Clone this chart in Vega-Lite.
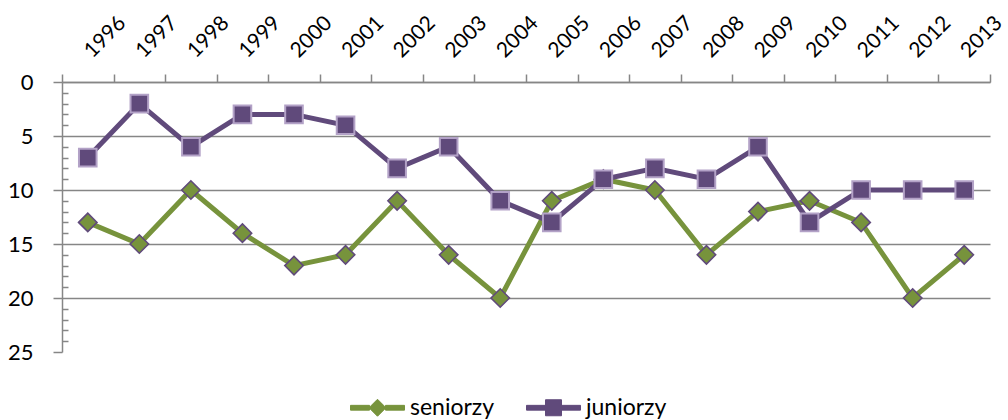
{
  "$schema": "https://vega.github.io/schema/vega-lite/v6.json",
  "width": 928,
  "height": 270,
  "autosize": "none",
  "padding": {"left": 62, "top": 82, "right": 18, "bottom": 68},
  "background": "white",
  "config": {"view": {"stroke": null}, "font": "Lato"},
  "data": {"values": [
    {"year": "1996", "series": "seniorzy", "rank": 13},
    {"year": "1997", "series": "seniorzy", "rank": 15},
    {"year": "1998", "series": "seniorzy", "rank": 10},
    {"year": "1999", "series": "seniorzy", "rank": 14},
    {"year": "2000", "series": "seniorzy", "rank": 17},
    {"year": "2001", "series": "seniorzy", "rank": 16},
    {"year": "2002", "series": "seniorzy", "rank": 11},
    {"year": "2003", "series": "seniorzy", "rank": 16},
    {"year": "2004", "series": "seniorzy", "rank": 20},
    {"year": "2005", "series": "seniorzy", "rank": 11},
    {"year": "2006", "series": "seniorzy", "rank": 9},
    {"year": "2007", "series": "seniorzy", "rank": 10},
    {"year": "2008", "series": "seniorzy", "rank": 16},
    {"year": "2009", "series": "seniorzy", "rank": 12},
    {"year": "2010", "series": "seniorzy", "rank": 11},
    {"year": "2011", "series": "seniorzy", "rank": 13},
    {"year": "2012", "series": "seniorzy", "rank": 20},
    {"year": "2013", "series": "seniorzy", "rank": 16},
    {"year": "1996", "series": "juniorzy", "rank": 7},
    {"year": "1997", "series": "juniorzy", "rank": 2},
    {"year": "1998", "series": "juniorzy", "rank": 6},
    {"year": "1999", "series": "juniorzy", "rank": 3},
    {"year": "2000", "series": "juniorzy", "rank": 3},
    {"year": "2001", "series": "juniorzy", "rank": 4},
    {"year": "2002", "series": "juniorzy", "rank": 8},
    {"year": "2003", "series": "juniorzy", "rank": 6},
    {"year": "2004", "series": "juniorzy", "rank": 11},
    {"year": "2005", "series": "juniorzy", "rank": 13},
    {"year": "2006", "series": "juniorzy", "rank": 9},
    {"year": "2007", "series": "juniorzy", "rank": 8},
    {"year": "2008", "series": "juniorzy", "rank": 9},
    {"year": "2009", "series": "juniorzy", "rank": 6},
    {"year": "2010", "series": "juniorzy", "rank": 13},
    {"year": "2011", "series": "juniorzy", "rank": 10},
    {"year": "2012", "series": "juniorzy", "rank": 10},
    {"year": "2013", "series": "juniorzy", "rank": 10}
  ]},
  "encoding": {
    "x": {
      "field": "year", "type": "ordinal",
      "scale": {"type": "band", "paddingInner": 0, "paddingOuter": 0},
      "axis": {
        "orient": "top", "title": null, "tickBand": "extent",
        "labelAngle": -45, "labelAlign": "left", "labelBaseline": "middle",
        "labelFont": "Lato", "labelFontSize": 21, "labelColor": "#000000",
        "labelPadding": 20, "tickSize": 8, "tickColor": "#868686", "tickWidth": 1.5,
        "domainColor": "#868686", "domainWidth": 1.5, "grid": false,
        "labelOverlap": false, "labelBound": false
      }
    },
    "y": {
      "field": "rank", "type": "quantitative",
      "scale": {"domain": [0, 25], "reverse": true, "nice": false},
      "axis": {
        "title": null,
        "values": [0,1,2,3,4,5,6,7,8,9,10,11,12,13,14,15,16,17,18,19,20,21,22,23,24,25],
        "labelExpr": "datum.value % 5 === 0 ? datum.label : ''",
        "labelFont": "Lato", "labelFontSize": 22, "labelColor": "#000000",
        "labelPadding": 20, "labelOverlap": false,
        "tickSize": {"condition": {"test": "datum.value % 5 === 0", "value": 9}, "value": -6},
        "tickColor": "#868686", "tickWidth": 1.5,
        "domainColor": "#868686", "domainWidth": 1.5,
        "grid": true, "gridColor": "#868686", "gridWidth": 1.5,
        "gridOpacity": {"condition": {"test": "datum.value % 5 === 0 && datum.value < 25", "value": 1}, "value": 0}
      }
    }
  },
  "layer": [
    {
      "transform": [{"filter": "datum.series === 'seniorzy'"}],
      "mark": {"type": "line", "strokeWidth": 5},
      "encoding": {
        "color": {
          "field": "series", "type": "nominal",
          "scale": {"domain": ["seniorzy", "juniorzy"], "range": ["#77933C", "#604A7B"]},
          "legend": {
            "orient": "none", "legendX": 304, "legendY": 314,
            "direction": "horizontal", "columns": 2, "title": null,
            "labelFont": "Lato", "labelFontSize": 23, "labelColor": "#000000",
            "labelOffset": 21, "columnPadding": 29, "symbolSize": 400, "padding": 0,
            "encode": {
              "symbols": {
                "update": {
                  "shape": {"signal": "datum.value === 'seniorzy' ? 'M-2.7,-0.24H-0.8V0.24H-2.7Z M0.8,-0.24H2.7V0.24H0.8Z M0,-0.85L0.85,0L0,0.85L-0.85,0Z' : 'M-2.7,-0.24H-0.8V0.24H-2.7Z M0.8,-0.24H2.7V0.24H0.8Z M-0.8,-0.8H0.8V0.8H-0.8Z'"},
                  "fill": {"signal": "datum.value === 'seniorzy' ? '#77933C' : '#604A7B'"},
                  "stroke": {"signal": "datum.value === 'seniorzy' ? '#604A7B' : '#B3A2C7'"},
                  "strokeWidth": {"value": 1},
                  "size": {"value": 400},
                  "opacity": {"value": 1},
                  "fillOpacity": {"value": 1}
                }
              }
            }
          }
        }
      }
    },
    {
      "transform": [{"filter": "datum.series === 'seniorzy'"}],
      "mark": {"type": "point", "shape": "diamond", "filled": true, "fill": "#77933C", "stroke": "#604A7B", "opacity": 1, "strokeWidth": 1.6, "size": 340}
    },
    {
      "transform": [{"filter": "datum.series === 'juniorzy'"}],
      "mark": {"type": "line", "strokeWidth": 5},
      "encoding": {
        "color": {"field": "series", "type": "nominal"}
      }
    },
    {
      "transform": [{"filter": "datum.series === 'juniorzy'"}],
      "mark": {"type": "point", "shape": "square", "filled": true, "fill": "#604A7B", "stroke": "#B3A2C7", "opacity": 1, "strokeWidth": 2, "size": 310}
    }
  ]
}
